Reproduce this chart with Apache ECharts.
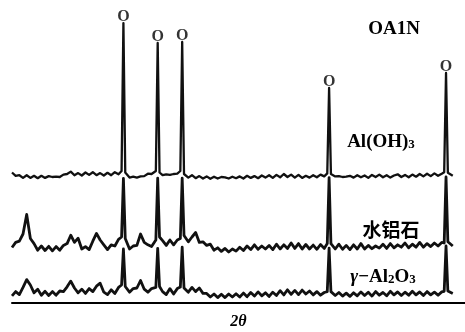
<!DOCTYPE html>
<html>
<head>
<meta charset="utf-8">
<script src="https://cdn.jsdelivr.net/npm/echarts@6/dist/echarts.min.js"></script>
<style>
  html, body { margin: 0; padding: 0; background: #fff; }
  #chart { width: 465px; height: 332px; }
</style>
</head>
<body>
<div id="chart"></div>
<script>
// 2θ sampling (deg), denser around the AlN reflections
const twoTheta = [
  24.0, 24.3, 24.6, 24.9, 25.2, 25.5, 25.8, 26.1, 26.4, 26.7,
  27.0, 27.3, 27.6, 27.9, 28.2, 28.5, 28.8, 29.1, 29.4, 29.7,
  30.0, 30.3, 30.6, 30.9, 31.2, 31.5, 31.8, 32.1, 32.4, 32.7,
  32.95, 33.1, 33.25, 33.6, 33.9, 34.2, 34.5, 34.8, 35.1, 35.4,
  35.75, 35.9, 36.05, 36.3, 36.6, 36.9, 37.2, 37.5, 37.75, 37.9,
  38.05, 38.4, 38.7, 39.0, 39.3, 39.6, 39.9, 40.2, 40.5, 40.8,
  41.1, 41.4, 41.7, 42.0, 42.3, 42.6, 42.9, 43.2, 43.5, 43.8,
  44.1, 44.4, 44.7, 45.0, 45.3, 45.6, 45.9, 46.2, 46.5, 46.8,
  47.1, 47.4, 47.7, 48.0, 48.3, 48.6, 48.9, 49.2, 49.5, 49.75,
  49.9, 50.05, 50.4, 50.7, 51.0, 51.3, 51.6, 51.9, 52.2, 52.5,
  52.8, 53.1, 53.4, 53.7, 54.0, 54.3, 54.6, 54.9, 55.2, 55.5,
  55.8, 56.1, 56.4, 56.7, 57.0, 57.3, 57.6, 57.9, 58.2, 58.5,
  58.8, 59.1, 59.3, 59.45, 59.6, 60.0
]

// intensities (offset per pattern)
const alOH3 = [
  43.5, 42.4, 42.6, 41.7, 42.6, 41.7, 42.4, 41.6, 42.4, 41.7,
  42.3, 42.0, 42.1, 42.0, 42.8, 43.0, 43.8, 42.6, 43.3, 42.5,
  43.5, 42.7, 43.6, 42.6, 43.3, 42.5, 43.4, 42.6, 43.6, 42.9,
  44.0, 93.3, 43.5, 41.8, 42.1, 41.8, 42.2, 42.3, 43.1, 43.0,
  44.0, 86.7, 43.5, 42.6, 42.9, 42.7, 43.0, 43.1, 44.0, 87.0,
  43.0, 41.8, 42.6, 41.6, 42.3, 41.5, 42.2, 41.4, 42.1, 41.5,
  42.0, 41.9, 41.5, 42.1, 41.6, 42.2, 41.5, 42.4, 41.7, 42.3,
  41.6, 42.5, 41.8, 42.6, 41.7, 42.7, 41.9, 43.0, 42.0, 42.8,
  41.8, 42.7, 41.7, 42.4, 41.8, 42.6, 41.9, 42.8, 42.2, 43.2,
  71.7, 43.0, 42.2, 42.3, 42.0, 42.1, 42.4, 41.8, 42.6, 41.9,
  42.5, 41.7, 42.7, 42.0, 42.8, 41.9, 42.6, 41.8, 42.5, 42.9,
  42.0, 42.7, 41.9, 42.8, 42.1, 43.0, 42.2, 43.1, 42.3, 43.2,
  42.4, 43.1, 43.6, 76.7, 43.4, 42.4
]

const diaspore = [
  18.5, 20.2, 20.6, 23.0, 29.5, 21.5, 19.8, 17.6, 19.0, 17.5,
  18.9, 17.4, 18.8, 17.6, 19.2, 19.8, 22.6, 20.2, 21.6, 18.0,
  18.8, 17.8, 20.6, 23.2, 21.0, 19.4, 17.8, 19.4, 19.0, 21.2,
  22.0, 41.5, 21.5, 18.0, 19.0, 19.2, 23.0, 20.2, 19.4, 18.8,
  21.0, 41.6, 22.0, 20.8, 19.2, 21.0, 19.4, 21.0, 21.5, 41.6,
  22.5, 20.4, 22.0, 23.5, 20.2, 20.4, 19.2, 19.6, 17.6, 18.4,
  17.2, 18.2, 17.0, 18.0, 17.3, 18.6, 17.5, 19.0, 17.8, 19.4,
  17.9, 19.0, 18.0, 19.2, 17.8, 19.6, 18.0, 19.4, 18.2, 20.0,
  18.2, 19.8, 18.0, 19.5, 18.0, 19.3, 17.9, 19.5, 18.2, 19.8,
  41.8, 19.8, 18.0, 19.6, 17.9, 19.2, 17.8, 19.4, 18.0, 19.8,
  18.0, 19.2, 18.1, 19.0, 18.3, 19.6, 18.2, 19.8, 18.4, 19.4,
  18.6, 20.0, 18.4, 19.6, 18.6, 20.2, 18.6, 19.8, 18.8, 20.0,
  19.0, 20.2, 20.0, 42.0, 20.4, 19.0
]

const gammaAl2O3 = [
  2.4, 3.8, 2.8, 5.2, 7.8, 6.0, 3.4, 4.6, 2.6, 3.9,
  2.5, 3.8, 2.6, 4.0, 3.8, 5.4, 7.3, 5.0, 3.4, 4.6,
  3.2, 4.8, 3.8, 5.6, 6.6, 3.6, 2.8, 4.4, 3.2, 5.2,
  6.0, 18.0, 5.5, 3.6, 4.8, 5.0, 7.5, 4.6, 3.6, 4.8,
  5.2, 18.2, 5.5, 3.8, 2.8, 4.8, 3.0, 4.8, 5.3, 18.6,
  5.0, 3.6, 5.2, 3.8, 5.0, 3.2, 3.2, 2.0, 3.0, 1.8,
  2.9, 1.8, 3.0, 2.0, 3.1, 2.0, 3.3, 2.1, 3.5, 2.3,
  3.7, 2.4, 3.4, 2.2, 3.6, 2.5, 4.1, 2.7, 4.4, 2.9,
  4.2, 2.8, 4.3, 3.0, 4.0, 2.7, 3.8, 2.6, 3.5, 3.8,
  18.3, 3.8, 2.5, 3.5, 2.3, 3.3, 2.2, 3.4, 2.4, 3.7,
  2.5, 3.6, 2.3, 3.8, 2.6, 3.5, 2.4, 3.9, 2.7, 3.7,
  2.5, 3.6, 2.6, 3.9, 2.7, 3.7, 2.5, 3.8, 2.7, 3.6,
  2.6, 3.7, 3.9, 19.0, 4.0, 3.2
]

// AlN reflections marked with "O"
const alnPeaks = [33.1, 35.9, 37.9, 49.9, 59.45]

const serif = '"Liberation Serif", "DejaVu Serif", serif'
const ink = '#111'

const chart = echarts.init(document.getElementById('chart'))

const trace = (name, values, width) => ({
  name,
  type: 'line',
  data: twoTheta.map((t, i) => [t, values[i]]),
  showSymbol: false,
  silent: true,
  lineStyle: { color: ink, width, join: 'round' }
})

const sub = { font: 'bold 13px ' + serif, lineHeight: 6, verticalAlign: 'bottom' }

chart.setOption({
  animation: false,
  grid: { left: 12, right: 0, top: 3, bottom: 29, outerBoundsMode: 'none' },
  xAxis: {
    type: 'value',
    min: 24,
    max: 61,
    name: '2θ',
    nameLocation: 'middle',
    nameGap: 11,
    nameTextStyle: {
      fontFamily: serif, fontStyle: 'italic', fontWeight: 'bold',
      fontSize: 16, color: '#000'
    },
    axisLine: { lineStyle: { color: '#000', width: 2 } },
    axisTick: { show: false },
    axisLabel: { show: false },
    splitLine: { show: false }
  },
  yAxis: {
    type: 'value',
    min: 0,
    max: 100,
    show: false
  },
  series: [
    trace('γ-Al2O3', gammaAl2O3, 2.8),
    trace('水铝石', diaspore, 2.8),
    trace('Al(OH)3', alOH3, 2.3),
    {
      name: 'AlN',
      type: 'scatter',
      data: alnPeaks.map(t => [t, alOH3[twoTheta.indexOf(t)]]),
      symbol: 'circle',
      symbolSize: 1,
      itemStyle: { color: 'rgba(0,0,0,0)' },
      label: {
        show: true,
        position: 'top',
        distance: -2,
        formatter: 'O',
        fontFamily: serif,
        fontWeight: 'bold',
        fontSize: 16,
        color: '#000'
      }
    }
  ],
  graphic: [
    {
      type: 'text',
      style: {
        x: 394, y: 29, text: 'OA1N', align: 'center', verticalAlign: 'middle',
        font: 'bold 19px ' + serif, fill: '#000'
      }
    },
    {
      type: 'text',
      style: {
        x: 381, y: 142, text: 'Al(OH){sub|3}', align: 'center', verticalAlign: 'middle',
        font: 'bold 19px ' + serif, fill: '#000',
        rich: { sub }
      }
    },
    {
      type: 'text',
      style: {
        x: 391, y: 230, text: '水铝石', align: 'center', verticalAlign: 'middle',
        font: 'bold 19px "Noto Sans CJK SC", sans-serif', fill: '#000'
      }
    },
    {
      type: 'text',
      style: {
        x: 383, y: 277, text: '{it|γ}−Al{sub|2}O{sub|3}', align: 'center', verticalAlign: 'middle',
        font: 'bold 19px ' + serif, fill: '#000',
        rich: {
          it: { font: 'italic bold 19px ' + serif },
          sub
        }
      }
    }
  ]
})
</script>
</body>
</html>
